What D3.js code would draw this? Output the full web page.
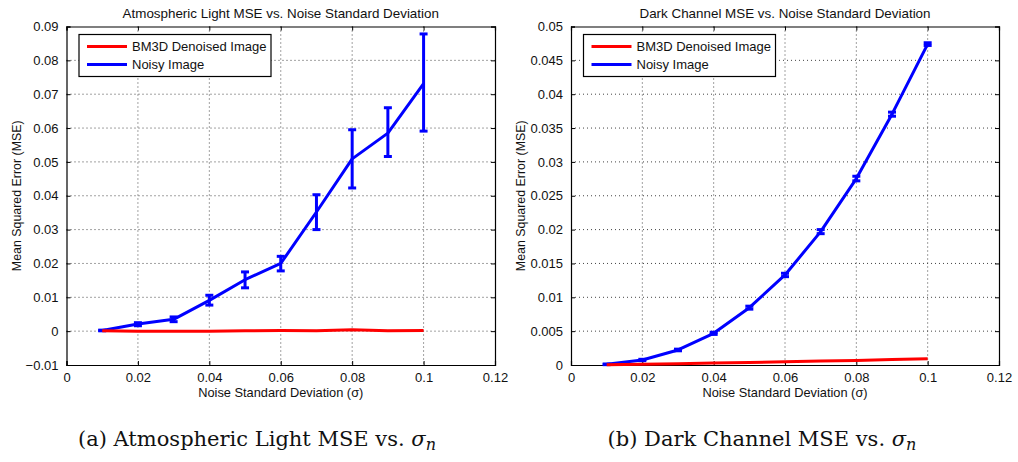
<!DOCTYPE html>
<html>
<head>
<meta charset="utf-8">
<script src="https://cdn.jsdelivr.net/npm/d3@7"></script>
<style>
  body { margin: 0; background: #fff; }
  svg text { font-family: "Liberation Sans", Arial, sans-serif; fill: #111; }
  .caption { font-family: "DejaVu Serif", "Liberation Serif", serif; }
</style>
</head>
<body>
<div class="chart"></div>
<script>
// noise levels shared by both panels
var sigma = [0.01, 0.02, 0.03, 0.04, 0.05, 0.06, 0.07, 0.08, 0.09, 0.1];

// (a) atmospheric light
var atmBM3D     = [0.0001, 0.0000, 0.0000, 0.0000, 0.0001, 0.0002, 0.0001, 0.0004, 0.0001, 0.0002];
var atmNoisy    = [0.0002, 0.0021, 0.0035, 0.0091, 0.0152, 0.0200, 0.0352, 0.0509, 0.0585, 0.0731];
var atmNoisyLo  = [0.0001, 0.0016, 0.0028, 0.0077, 0.0128, 0.0178, 0.0300, 0.0423, 0.0516, 0.0591];
var atmNoisyHi  = [0.0003, 0.0025, 0.0042, 0.0106, 0.0175, 0.0221, 0.0403, 0.0595, 0.0660, 0.0878];

// (b) dark channel
var darkBM3D    = [0.00002, 0.00010, 0.00019, 0.00029, 0.00038, 0.00048, 0.00058, 0.00067, 0.00080, 0.00093];
var darkNoisy   = [0.00010, 0.00074, 0.00222, 0.00468, 0.00847, 0.01330, 0.01970, 0.02754, 0.03705, 0.04740];
var darkNoisyLo = [0.00005, 0.00064, 0.00210, 0.00452, 0.00825, 0.01305, 0.01940, 0.02720, 0.03675, 0.04720];
var darkNoisyHi = [0.00015, 0.00084, 0.00234, 0.00484, 0.00869, 0.01355, 0.02000, 0.02788, 0.03735, 0.04760];

// ticks
var xTicks      = [0, 0.02, 0.04, 0.06, 0.08, 0.1, 0.12];
var xTickLabels = ["0", "0.02", "0.04", "0.06", "0.08", "0.1", "0.12"];
var atmYTicks   = [-0.01, 0, 0.01, 0.02, 0.03, 0.04, 0.05, 0.06, 0.07, 0.08, 0.09];
var atmYLabels  = ["\u22120.01", "0", "0.01", "0.02", "0.03", "0.04", "0.05", "0.06", "0.07", "0.08", "0.09"];
var darkYTicks  = [0, 0.005, 0.01, 0.015, 0.02, 0.025, 0.03, 0.035, 0.04, 0.045, 0.05];
var darkYLabels = ["0", "0.005", "0.01", "0.015", "0.02", "0.025", "0.03", "0.035", "0.04", "0.045", "0.05"];

var seriesNames = ["BM3D Denoised Image", "Noisy Image"];
var colors = ["#ff0000", "#0000ff"];

var svg = d3.select(".chart").append("svg")
    .attr("width", 1018)
    .attr("height", 462);

function drawPanel(p) {
    var x = d3.scaleLinear().domain([0, 0.12]).range([p.left, p.right]);
    var y = d3.scaleLinear().domain(p.yDomain).range([p.bottom, p.top]);
    var g = svg.append("g");

    // dotted grid
    g.selectAll(".gx").data(xTicks.slice(1, -1)).enter().append("line")
        .attr("x1", function(d) { return x(d); }).attr("x2", function(d) { return x(d); })
        .attr("y1", p.top).attr("y2", p.bottom)
        .attr("stroke", "#444").attr("stroke-dasharray", "1,3");
    g.selectAll(".gy").data(p.yTicks.slice(1, -1)).enter().append("line")
        .attr("y1", function(d) { return y(d); }).attr("y2", function(d) { return y(d); })
        .attr("x1", p.left).attr("x2", p.right)
        .attr("stroke", "#444").attr("stroke-dasharray", "1,3");

    // axes (ticks pointing inward, labels formatted like matlab)
    var bottom = g.append("g").attr("transform", "translate(0," + p.bottom + ")")
        .call(d3.axisBottom(x).tickValues(xTicks).tickSize(-4).tickPadding(8)
            .tickFormat(function(d, i) { return xTickLabels[i]; }));
    var top = g.append("g").attr("transform", "translate(0," + p.top + ")")
        .call(d3.axisTop(x).tickValues(xTicks).tickSize(-4).tickFormat(""));
    var left = g.append("g").attr("transform", "translate(" + p.left + ",0)")
        .call(d3.axisLeft(y).tickValues(p.yTicks).tickSize(-4).tickPadding(8)
            .tickFormat(function(d, i) { return p.yLabels[i]; }));
    var right = g.append("g").attr("transform", "translate(" + p.right + ",0)")
        .call(d3.axisRight(y).tickValues(p.yTicks).tickSize(-4).tickFormat(""));
    [bottom, top, left, right].forEach(function(a) {
        a.select(".domain").attr("stroke", "#000").attr("stroke-width", 1.2);
        a.selectAll(".tick line").attr("stroke", "#000");
        a.selectAll("text").attr("font-size", 13).attr("fill", "#111")
            .attr("font-family", "Liberation Sans, Arial, sans-serif");
    });

    var line = d3.line()
        .x(function(d) { return x(d[0]); })
        .y(function(d) { return y(d[1]); });

    // noisy series with error bars
    var noisy = sigma.map(function(s, i) { return [s, p.noisy[i], p.lo[i], p.hi[i]]; });
    g.append("path").datum(noisy)
        .attr("fill", "none").attr("stroke", colors[1]).attr("stroke-width", 3)
        .attr("stroke-linejoin", "round").attr("d", line);
    var eb = g.selectAll(".eb").data(noisy).enter().append("g").attr("class", "eb");
    eb.append("line")
        .attr("x1", function(d) { return x(d[0]); }).attr("x2", function(d) { return x(d[0]); })
        .attr("y1", function(d) { return y(d[2]); }).attr("y2", function(d) { return y(d[3]); })
        .attr("stroke", colors[1]).attr("stroke-width", 3);
    [2, 3].forEach(function(k) {
        eb.append("line")
            .attr("x1", function(d) { return x(d[0]) - 4; }).attr("x2", function(d) { return x(d[0]) + 4; })
            .attr("y1", function(d) { return y(d[k]); }).attr("y2", function(d) { return y(d[k]); })
            .attr("stroke", colors[1]).attr("stroke-width", 3);
    });

    // bm3d series
    var bm = sigma.map(function(s, i) { return [s, p.bm3d[i]]; });
    g.append("path").datum(bm)
        .attr("fill", "none").attr("stroke", colors[0]).attr("stroke-width", 3)
        .attr("stroke-linejoin", "round").attr("d", line);

    // titles and labels
    var cx = (p.left + p.right) / 2;
    g.append("text").attr("x", cx).attr("y", 17.5).attr("text-anchor", "middle")
        .attr("font-size", 13.4).text(p.title);
    g.append("text").attr("x", cx).attr("y", 397).attr("text-anchor", "middle")
        .attr("font-size", 12.8).text("Noise Standard Deviation (\u03c3)");
    g.append("text").attr("transform", "translate(" + (p.left - 46) + "," + ((p.top + p.bottom) / 2) + ") rotate(-90)")
        .attr("text-anchor", "middle").attr("font-size", 12.4).text("Mean Squared Error (MSE)");

    // legend
    var lg = g.append("g").attr("transform", "translate(" + (p.left + 12.5) + ",34.5)");
    lg.append("rect").attr("width", 192).attr("height", 42)
        .attr("fill", "#fff").attr("stroke", "#000").attr("stroke-width", 1.2);
    seriesNames.forEach(function(n, i) {
        var yy = 12 + i * 18;
        lg.append("line").attr("x1", 8).attr("x2", 48).attr("y1", yy).attr("y2", yy)
            .attr("stroke", colors[i]).attr("stroke-width", 3);
        lg.append("text").attr("x", 53).attr("y", yy + 4.5).attr("font-size", 13).text(n);
    });

    // caption below the plot
    var cap = g.append("text").attr("class", "caption").attr("x", p.capX).attr("y", 446)
        .attr("text-anchor", "middle").attr("font-size", 21);
    cap.append("tspan").text(p.caption + " ");
    cap.append("tspan").attr("font-style", "italic").text("\u03c3");
    cap.append("tspan").attr("font-style", "italic").attr("font-size", 16).attr("dy", 4).text("n");
}

drawPanel({
    left: 66.5, right: 495, top: 26.5, bottom: 365,
    yDomain: [-0.01, 0.09], yTicks: atmYTicks, yLabels: atmYLabels,
    noisy: atmNoisy, lo: atmNoisyLo, hi: atmNoisyHi, bm3d: atmBM3D,
    title: "Atmospheric Light MSE vs. Noise Standard Deviation",
    caption: "(a) Atmospheric Light MSE vs.", capX: 257
});

drawPanel({
    left: 571, right: 999, top: 26.5, bottom: 365,
    yDomain: [0, 0.05], yTicks: darkYTicks, yLabels: darkYLabels,
    noisy: darkNoisy, lo: darkNoisyLo, hi: darkNoisyHi, bm3d: darkBM3D,
    title: "Dark Channel MSE vs. Noise Standard Deviation",
    caption: "(b) Dark Channel MSE vs.", capX: 762
});
</script>
</body>
</html>
